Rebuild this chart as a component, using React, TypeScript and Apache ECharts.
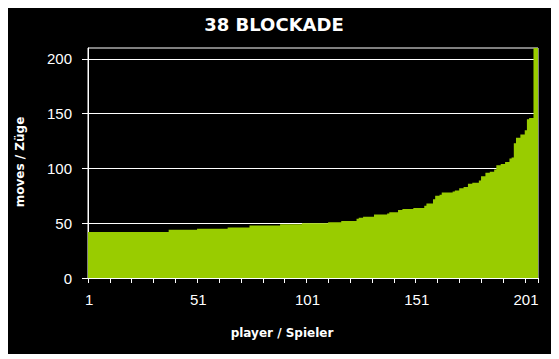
import React, { useEffect, useRef } from "react";
import * as echarts from "echarts";

const TITLE = "38 BLOCKADE";
const X_NAME = "player / Spieler";
const Y_NAME = "moves / Züge";

// moves needed by each player, sorted ascending (players 1..206)
const PLAYER_MOVES = [
  42, 42, 42, 42, 42, 42, 42, 42, 42, 42,
  42, 42, 42, 42, 42, 42, 42, 42, 42, 42,
  42, 42, 42, 42, 42, 42, 42, 42, 42, 42,
  42, 42, 42, 42, 42, 42, 42, 44, 44, 44,
  44, 44, 44, 44, 44, 44, 44, 44, 44, 44,
  45, 45, 45, 45, 45, 45, 45, 45, 45, 45,
  45, 45, 45, 45, 46, 46, 46, 46, 46, 46,
  46, 46, 46, 46, 48, 48, 48, 48, 48, 48,
  48, 48, 48, 48, 48, 48, 48, 48, 49, 49,
  49, 49, 49, 49, 49, 49, 49, 49, 50, 50,
  50, 50, 50, 50, 50, 50, 50, 50, 50, 50,
  51, 51, 51, 51, 51, 51, 52, 52, 52, 52,
  52, 52, 52, 54, 55, 55, 56, 56, 56, 56,
  56, 58, 58, 58, 58, 58, 58, 59, 60, 60,
  60, 60, 62, 62, 63, 63, 63, 63, 63, 64,
  64, 64, 64, 64, 66, 68, 68, 68, 72, 75,
  75, 76, 78, 78, 78, 78, 78, 79, 80, 80,
  82, 82, 83, 83, 86, 86, 87, 87, 87, 89,
  93, 93, 96, 96, 97, 97, 99, 103, 103, 104,
  104, 106, 106, 109, 110, 123, 128, 128, 131, 131,
  135, 145, 146, 146, 210, 210,
];

const PLAYERS = PLAYER_MOVES.map((_, i) => String(i + 1));
const X_TICK_LABELS = ["1", "51", "101", "151", "201"];
const X_TICK_STEP = 10;
const Y_TICKS = [0, 50, 100, 150, 200];
const Y_MAX = 210;

const BAR_COLOR = "#99cc00";
const LABEL_FONT = "Liberation Sans";
const NAME_FONT = "DejaVu Sans";

export default function App() {
  const ref = useRef<HTMLDivElement | null>(null);

  useEffect(() => {
    if (!ref.current) return;
    const chart = echarts.init(ref.current, undefined, { renderer: "svg" });
    chart.setOption({
      animation: false,
      backgroundColor: "#000000",
      grid: {
        left: 80,
        top: 40,
        width: 450,
        height: 230,
        show: true,
        borderColor: "#ffffff",
        borderWidth: 1,
        backgroundColor: "transparent",
      },
      graphic: [
        {
          type: "text",
          x: 266,
          y: 16,
          style: {
            text: TITLE,
            fill: "#ffffff",
            font: `bold 18px '${NAME_FONT}'`,
            textAlign: "center",
            textVerticalAlign: "middle",
          },
        },
        {
          type: "text",
          x: 274,
          y: 325,
          style: {
            text: X_NAME,
            fill: "#ffffff",
            font: `bold 12px '${NAME_FONT}'`,
            textAlign: "center",
            textVerticalAlign: "middle",
          },
        },
        {
          type: "text",
          x: 12,
          y: 154,
          rotation: Math.PI / 2,
          style: {
            text: Y_NAME,
            fill: "#ffffff",
            font: `bold 12px '${NAME_FONT}'`,
            textAlign: "center",
            textVerticalAlign: "middle",
          },
        },
      ],
      xAxis: {
        type: "category",
        data: PLAYERS,
        boundaryGap: true,
        axisLine: { show: true, lineStyle: { color: "#ffffff", width: 1 } },
        axisTick: {
          show: true,
          alignWithLabel: false,
          length: 5,
          interval: (i: number) => i % X_TICK_STEP === 0,
          lineStyle: { color: "#ffffff", width: 1 },
        },
        axisLabel: {
          interval: (_i: number, v: string) => X_TICK_LABELS.includes(v),
          color: "#ffffff",
          fontFamily: LABEL_FONT,
          fontSize: 15,
          margin: 14,
        },
        splitLine: { show: false },
      },
      yAxis: {
        type: "value",
        min: 0,
        max: Y_MAX,
        interval: 50,
        axisLine: { show: true, lineStyle: { color: "#ffffff", width: 1 } },
        axisTick: {
          show: true,
          length: 6,
          customValues: Y_TICKS,
          lineStyle: { color: "#ffffff", width: 1 },
        },
        axisLabel: {
          customValues: Y_TICKS,
          color: "#ffffff",
          fontFamily: LABEL_FONT,
          fontSize: 15,
          margin: 16,
        },
        splitLine: { show: true, lineStyle: { color: "#ffffff", width: 1 } },
      },
      series: [
        {
          type: "bar",
          data: PLAYER_MOVES,
          large: true,
          largeThreshold: 50,
          barWidth: 2.5,
          itemStyle: { color: BAR_COLOR },
          silent: true,
        },
      ],
    });
    return () => chart.dispose();
  }, []);

  return <div ref={ref} style={{ width: 544, height: 346 }} />;
}
